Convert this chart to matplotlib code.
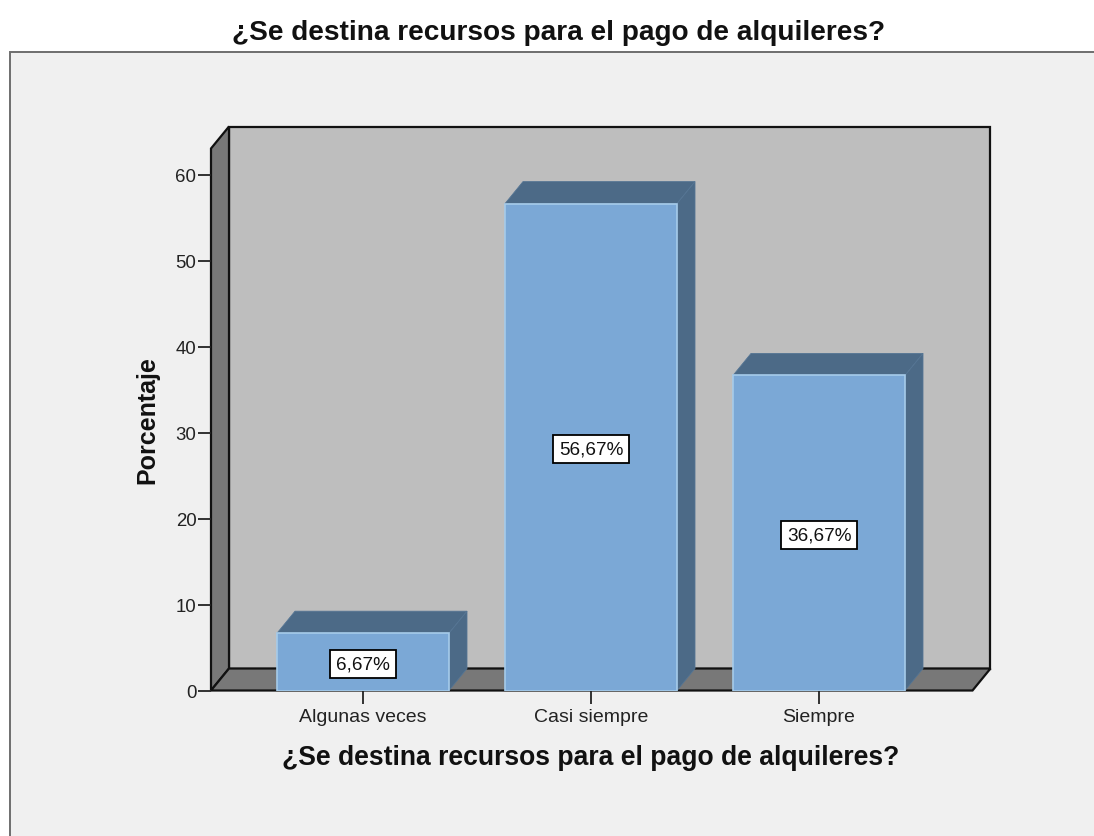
import matplotlib
matplotlib.use("Agg")
import matplotlib.pyplot as plt
from matplotlib.patches import Polygon, Rectangle

categories = ["Algunas veces", "Casi siempre", "Siempre"]
values = [6.67, 56.67, 36.67]
value_labels = ["6,67%", "56,67%", "36,67%"]
yticks = [0, 10, 20, 30, 40, 50, 60]
title = "¿Se destina recursos para el pago de alquileres?"
ylabel = "Porcentaje"

W, H = 1094, 837
plt.rcParams["font.family"] = ["Liberation Sans", "DejaVu Sans"]
fig = plt.figure(figsize=(W / 100, H / 100), dpi=100, facecolor="white")

# outer panel
fig.add_artist(Rectangle((10 / W, -0.01), 1.1, (H - 53) / H + 0.01, transform=fig.transFigure,
                         facecolor="#F0F0F0", edgecolor="#6E6E6E", linewidth=1.4, zorder=-1))

L, R, B, T = 211, 972.5, 691.5, 149.5
ax = fig.add_axes([L / W, (H - B) / H, (R - L) / W, (B - T) / H])
pxx = 228.0
pxy = (691.5 - 176) / 60
ax.set_xlim((L - 363) / pxx, (R - 363) / pxx)
ax.set_ylim(0, (B - T) / pxy)
ax.patch.set_alpha(0)
for s in ax.spines.values():
    s.set_visible(False)

dx = 18 / pxx
dy = 22 / pxy
x0, x1 = ax.get_xlim()
y0, y1 = ax.get_ylim()
lc = "#111111"


def poly(pts, fc, ec, lw, z):
    ax.add_patch(Polygon(pts, closed=True, facecolor=fc, edgecolor=ec, linewidth=lw,
                         zorder=z, clip_on=False, joinstyle="miter"))


# back wall, side wall, floor
poly([(x0 + dx, y0 + dy), (x1 + dx, y0 + dy), (x1 + dx, y1 + dy), (x0 + dx, y1 + dy)], "#BEBEBE", lc, 1.6, 1)
poly([(x0, y0), (x0 + dx, y0 + dy), (x0 + dx, y1 + dy), (x0, y1)], "#787878", lc, 1.6, 1.1)
poly([(x0, y0), (x1, y0), (x1 + dx, y0 + dy), (x0 + dx, y0 + dy)], "#787878", lc, 1.6, 1.1)

# bars
w = 172 / pxx
for i, v in enumerate(values):
    a, b = i - w / 2, i + w / 2
    poly([(a, v), (b, v), (b + dx, v + dy), (a + dx, v + dy)], "#4C6A87", "#557594", 0.6, 2)
    poly([(b, 0), (b + dx, dy), (b + dx, v + dy), (b, v)], "#4C6A87", "#557594", 0.6, 2)
    ax.bar(i, v, width=w, color="#7BA8D6", edgecolor="#A6CBEA", linewidth=1.2, zorder=3)
    ax.annotate(value_labels[i], (i, v / 2), xytext=(0, -1.4), textcoords="offset points",
                ha="center", va="center", fontsize=13.6, color="#111111", zorder=4,
                bbox=dict(boxstyle="square,pad=0.3", facecolor="white", edgecolor="black", linewidth=1.3))

ax.set_xticks(range(len(categories)))
ax.set_xticklabels(categories, fontsize=14, color="#222222")
ax.set_yticks(yticks)
ax.tick_params(axis="x", length=9.5, width=1.3, color="#222222", pad=3)
ax.tick_params(axis="y", length=9.5, width=1.3, color="#222222", pad=1, labelsize=13.4, labelcolor="#222222")

fig.text(559 / W, 1 - 33.5 / H, title, ha="center", va="center", fontsize=20.2, fontweight="bold", color="#111111")
fig.text(591 / W, 1 - 758.5 / H, title, ha="center", va="center", fontsize=19.1, fontweight="bold", color="#111111")
fig.text(147 / W, 1 - 420 / H, ylabel, ha="center", va="center", rotation=90, fontsize=18, fontweight="bold", color="#111111")

fig.savefig("out.png", dpi=100)
